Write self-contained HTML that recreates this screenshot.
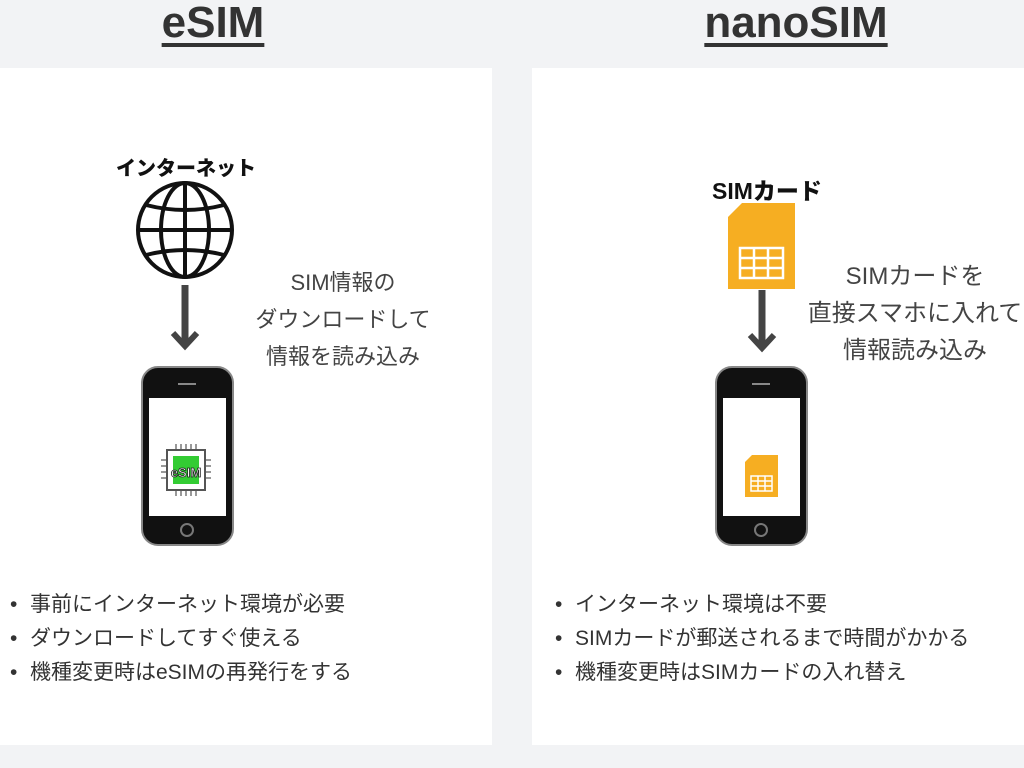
<!DOCTYPE html>
<html><head><meta charset="utf-8"><style>
body{margin:0;width:1024px;height:768px;background:#f2f3f5;position:relative;overflow:hidden;font-family:"Liberation Sans","Noto Sans CJK JP",sans-serif;color:#333}
.panel{position:absolute;background:#fff;top:68px;height:677px}
.t{position:absolute;white-space:nowrap}
.h{font-size:44px;font-weight:bold;text-decoration:underline;text-decoration-thickness:4px;text-underline-offset:6px;color:#333;top:-2px;text-align:center;width:400px}
.desc{font-size:24px;color:#444;text-align:center;line-height:37px;width:260px}
.list{font-size:21px;color:#333;line-height:34px}
.list div:before{content:"•";position:absolute;margin-left:-20px}
.lbl{font-size:23px;font-weight:900;color:#111}
</style></head><body>
<div class="t h" style="left:13px">eSIM</div>
<div class="t h" style="left:596px">nanoSIM</div>
<div class="panel" style="left:0;width:492px"></div>
<div class="panel" style="left:532px;width:492px"></div>

<div class="t lbl" style="left:116px;top:152px;font-size:20px">インターネット</div>
<div class="t lbl" style="left:712px;top:172px">SIMカード</div>

<svg width="1024" height="768" style="position:absolute;left:0;top:0">
 <g fill="none" stroke="#111" stroke-width="4">
  <circle cx="185" cy="230" r="47"/>
  <ellipse cx="185" cy="230" rx="24" ry="47"/>
  <line x1="185" y1="183" x2="185" y2="277"/>
  <line x1="138" y1="230" x2="232" y2="230"/>
  <path d="M146 205 Q185 215 224 205"/>
  <path d="M146 255 Q185 245 224 255"/>
 </g>
 <g stroke="#444" stroke-width="7" fill="none">
  <line x1="185" y1="285" x2="185" y2="345"/>
  <path d="M173 333 L185 346 L197 333" stroke-width="6"/>
  <line x1="762" y1="290" x2="762" y2="347"/>
  <path d="M750 335 L762 348 L774 335" stroke-width="6"/>
 </g>
 <g>
  <rect x="142" y="367" width="91" height="178" rx="16" fill="#111" stroke="#888" stroke-width="2"/>
  <rect x="149" y="398" width="77" height="118" fill="#fff"/>
  <line x1="178" y1="384" x2="196" y2="384" stroke="#888" stroke-width="2"/>
  <circle cx="187" cy="530" r="6" fill="none" stroke="#777" stroke-width="2"/>
  <rect x="716" y="367" width="91" height="178" rx="16" fill="#111" stroke="#888" stroke-width="2"/>
  <rect x="723" y="398" width="77" height="118" fill="#fff"/>
  <line x1="752" y1="384" x2="770" y2="384" stroke="#888" stroke-width="2"/>
  <circle cx="761" cy="530" r="6" fill="none" stroke="#777" stroke-width="2"/>
 </g>
 <g>
  <g stroke="#555" stroke-width="1.2">
   <line x1="176" y1="444" x2="176" y2="450"/><line x1="181" y1="444" x2="181" y2="450"/><line x1="186" y1="444" x2="186" y2="450"/><line x1="191" y1="444" x2="191" y2="450"/><line x1="196" y1="444" x2="196" y2="450"/>
   <line x1="176" y1="490" x2="176" y2="496"/><line x1="181" y1="490" x2="181" y2="496"/><line x1="186" y1="490" x2="186" y2="496"/><line x1="191" y1="490" x2="191" y2="496"/><line x1="196" y1="490" x2="196" y2="496"/>
   <line x1="161" y1="460" x2="167" y2="460"/><line x1="161" y1="466" x2="167" y2="466"/><line x1="161" y1="472" x2="167" y2="472"/><line x1="161" y1="478" x2="167" y2="478"/>
   <line x1="205" y1="460" x2="211" y2="460"/><line x1="205" y1="466" x2="211" y2="466"/><line x1="205" y1="472" x2="211" y2="472"/><line x1="205" y1="478" x2="211" y2="478"/>
  </g>
  <rect x="167" y="450" width="38" height="40" fill="#fff" stroke="#555" stroke-width="2"/>
  <rect x="173" y="456" width="26" height="28" fill="#3c3"/>
  <text x="186" y="477" font-size="13" font-weight="bold" text-anchor="middle" fill="#fff" stroke="#222" stroke-width="0.8" font-family="Liberation Sans">eSIM</text>
 </g>
 <g>
  <path d="M742 203 H795 V289 H728 V217 Z" fill="#f6ae22"/>
  <g fill="none" stroke="#fff" stroke-width="2.5">
   <rect x="740" y="248" width="43" height="30"/>
   <line x1="740" y1="258" x2="783" y2="258"/><line x1="740" y1="268" x2="783" y2="268"/>
   <line x1="754" y1="248" x2="754" y2="278"/><line x1="768" y1="248" x2="768" y2="278"/>
  </g>
  <path d="M752 455 H778 V497 H745 V462 Z" fill="#f6ae22"/>
  <g fill="none" stroke="#fff" stroke-width="1.5">
   <rect x="751" y="476" width="21" height="15"/>
   <line x1="751" y1="481" x2="772" y2="481"/><line x1="751" y1="486" x2="772" y2="486"/>
   <line x1="758" y1="476" x2="758" y2="491"/><line x1="765" y1="476" x2="765" y2="491"/>
  </g>
 </g>
</svg>

<div class="t desc" style="left:213px;top:264px;font-size:22px">SIM情報の<br>ダウンロードして<br>情報を読み込み</div>
<div class="t desc" style="left:785px;top:258px">SIMカードを<br>直接スマホに入れて<br>情報読み込み</div>

<div class="t list" style="left:30px;top:588px"><div>事前にインターネット環境が必要</div><div>ダウンロードしてすぐ使える</div><div>機種変更時はeSIMの再発行をする</div></div>
<div class="t list" style="left:575px;top:588px"><div>インターネット環境は不要</div><div>SIMカードが郵送されるまで時間がかかる</div><div>機種変更時はSIMカードの入れ替え</div></div>
</body></html>
